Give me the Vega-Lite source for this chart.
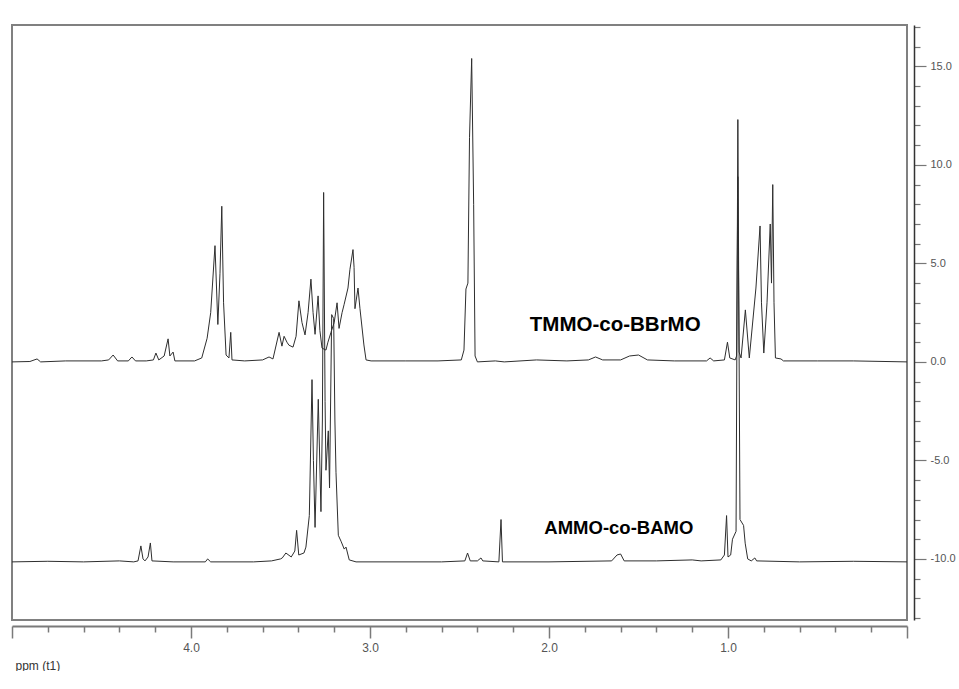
{
  "$schema": "https://vega.github.io/schema/vega-lite/v6.json",
  "width": 895,
  "height": 595,
  "autosize": {"type": "pad"},
  "padding": {"left": 11, "top": 20, "right": 0, "bottom": 0},
  "background": "white",
  "config": {"view": {"stroke": "#808080", "strokeWidth": 2}},
  "datasets": {
    "spec": [
      {"series": "TMMO-co-BBrMO", "ppm": 5.0, "intensity": 0.0},
      {"series": "TMMO-co-BBrMO", "ppm": 4.9, "intensity": 0.02},
      {"series": "TMMO-co-BBrMO", "ppm": 4.86, "intensity": 0.15},
      {"series": "TMMO-co-BBrMO", "ppm": 4.84, "intensity": 0.0},
      {"series": "TMMO-co-BBrMO", "ppm": 4.7, "intensity": 0.05},
      {"series": "TMMO-co-BBrMO", "ppm": 4.5, "intensity": 0.05},
      {"series": "TMMO-co-BBrMO", "ppm": 4.46, "intensity": 0.1},
      {"series": "TMMO-co-BBrMO", "ppm": 4.435, "intensity": 0.35},
      {"series": "TMMO-co-BBrMO", "ppm": 4.41, "intensity": 0.05},
      {"series": "TMMO-co-BBrMO", "ppm": 4.35, "intensity": 0.05},
      {"series": "TMMO-co-BBrMO", "ppm": 4.33, "intensity": 0.25},
      {"series": "TMMO-co-BBrMO", "ppm": 4.31, "intensity": 0.05},
      {"series": "TMMO-co-BBrMO", "ppm": 4.25, "intensity": 0.05},
      {"series": "TMMO-co-BBrMO", "ppm": 4.21, "intensity": 0.1},
      {"series": "TMMO-co-BBrMO", "ppm": 4.196, "intensity": 0.45},
      {"series": "TMMO-co-BBrMO", "ppm": 4.18, "intensity": 0.1},
      {"series": "TMMO-co-BBrMO", "ppm": 4.15, "intensity": 0.3},
      {"series": "TMMO-co-BBrMO", "ppm": 4.128, "intensity": 1.17},
      {"series": "TMMO-co-BBrMO", "ppm": 4.118, "intensity": 0.3},
      {"series": "TMMO-co-BBrMO", "ppm": 4.1, "intensity": 0.5},
      {"series": "TMMO-co-BBrMO", "ppm": 4.09, "intensity": 0.05},
      {"series": "TMMO-co-BBrMO", "ppm": 3.98, "intensity": 0.05},
      {"series": "TMMO-co-BBrMO", "ppm": 3.94, "intensity": 0.2},
      {"series": "TMMO-co-BBrMO", "ppm": 3.91, "intensity": 1.2},
      {"series": "TMMO-co-BBrMO", "ppm": 3.89, "intensity": 2.5},
      {"series": "TMMO-co-BBrMO", "ppm": 3.866, "intensity": 5.9},
      {"series": "TMMO-co-BBrMO", "ppm": 3.85, "intensity": 1.9},
      {"series": "TMMO-co-BBrMO", "ppm": 3.838, "intensity": 4.5},
      {"series": "TMMO-co-BBrMO", "ppm": 3.828, "intensity": 7.9},
      {"series": "TMMO-co-BBrMO", "ppm": 3.818, "intensity": 3.0},
      {"series": "TMMO-co-BBrMO", "ppm": 3.804, "intensity": 0.35},
      {"series": "TMMO-co-BBrMO", "ppm": 3.788, "intensity": 0.2},
      {"series": "TMMO-co-BBrMO", "ppm": 3.778, "intensity": 1.5},
      {"series": "TMMO-co-BBrMO", "ppm": 3.771, "intensity": 0.1},
      {"series": "TMMO-co-BBrMO", "ppm": 3.7, "intensity": 0.05},
      {"series": "TMMO-co-BBrMO", "ppm": 3.6, "intensity": 0.1},
      {"series": "TMMO-co-BBrMO", "ppm": 3.564, "intensity": 0.25},
      {"series": "TMMO-co-BBrMO", "ppm": 3.542, "intensity": 0.15},
      {"series": "TMMO-co-BBrMO", "ppm": 3.508, "intensity": 1.5},
      {"series": "TMMO-co-BBrMO", "ppm": 3.492, "intensity": 0.8},
      {"series": "TMMO-co-BBrMO", "ppm": 3.48, "intensity": 1.3},
      {"series": "TMMO-co-BBrMO", "ppm": 3.464, "intensity": 1.0},
      {"series": "TMMO-co-BBrMO", "ppm": 3.453, "intensity": 0.85},
      {"series": "TMMO-co-BBrMO", "ppm": 3.43, "intensity": 0.75},
      {"series": "TMMO-co-BBrMO", "ppm": 3.413, "intensity": 1.3},
      {"series": "TMMO-co-BBrMO", "ppm": 3.397, "intensity": 3.1},
      {"series": "TMMO-co-BBrMO", "ppm": 3.38, "intensity": 2.0},
      {"series": "TMMO-co-BBrMO", "ppm": 3.363, "intensity": 1.37},
      {"series": "TMMO-co-BBrMO", "ppm": 3.346, "intensity": 2.5},
      {"series": "TMMO-co-BBrMO", "ppm": 3.33, "intensity": 4.2},
      {"series": "TMMO-co-BBrMO", "ppm": 3.318, "intensity": 2.5},
      {"series": "TMMO-co-BBrMO", "ppm": 3.307, "intensity": 1.4},
      {"series": "TMMO-co-BBrMO", "ppm": 3.29, "intensity": 3.35},
      {"series": "TMMO-co-BBrMO", "ppm": 3.28, "intensity": 1.6},
      {"series": "TMMO-co-BBrMO", "ppm": 3.268, "intensity": 0.7},
      {"series": "TMMO-co-BBrMO", "ppm": 3.246, "intensity": 0.6},
      {"series": "TMMO-co-BBrMO", "ppm": 3.235, "intensity": 1.0},
      {"series": "TMMO-co-BBrMO", "ppm": 3.218, "intensity": 1.5},
      {"series": "TMMO-co-BBrMO", "ppm": 3.2, "intensity": 2.0},
      {"series": "TMMO-co-BBrMO", "ppm": 3.184, "intensity": 3.0},
      {"series": "TMMO-co-BBrMO", "ppm": 3.173, "intensity": 1.7},
      {"series": "TMMO-co-BBrMO", "ppm": 3.156, "intensity": 2.5},
      {"series": "TMMO-co-BBrMO", "ppm": 3.145, "intensity": 2.9},
      {"series": "TMMO-co-BBrMO", "ppm": 3.123, "intensity": 3.75},
      {"series": "TMMO-co-BBrMO", "ppm": 3.112, "intensity": 4.7},
      {"series": "TMMO-co-BBrMO", "ppm": 3.095, "intensity": 5.7},
      {"series": "TMMO-co-BBrMO", "ppm": 3.089, "intensity": 4.8},
      {"series": "TMMO-co-BBrMO", "ppm": 3.084, "intensity": 2.7},
      {"series": "TMMO-co-BBrMO", "ppm": 3.067, "intensity": 3.75},
      {"series": "TMMO-co-BBrMO", "ppm": 3.056, "intensity": 2.7},
      {"series": "TMMO-co-BBrMO", "ppm": 3.034, "intensity": 0.86},
      {"series": "TMMO-co-BBrMO", "ppm": 3.022, "intensity": 0.1},
      {"series": "TMMO-co-BBrMO", "ppm": 2.994, "intensity": 0.05},
      {"series": "TMMO-co-BBrMO", "ppm": 2.8, "intensity": 0.05},
      {"series": "TMMO-co-BBrMO", "ppm": 2.62, "intensity": 0.05},
      {"series": "TMMO-co-BBrMO", "ppm": 2.49, "intensity": 0.1},
      {"series": "TMMO-co-BBrMO", "ppm": 2.475, "intensity": 0.6},
      {"series": "TMMO-co-BBrMO", "ppm": 2.464, "intensity": 3.7},
      {"series": "TMMO-co-BBrMO", "ppm": 2.453, "intensity": 4.0},
      {"series": "TMMO-co-BBrMO", "ppm": 2.444, "intensity": 11.4},
      {"series": "TMMO-co-BBrMO", "ppm": 2.432, "intensity": 15.4},
      {"series": "TMMO-co-BBrMO", "ppm": 2.421, "intensity": 8.0},
      {"series": "TMMO-co-BBrMO", "ppm": 2.413, "intensity": 0.3},
      {"series": "TMMO-co-BBrMO", "ppm": 2.4, "intensity": 0.0},
      {"series": "TMMO-co-BBrMO", "ppm": 2.3, "intensity": 0.05},
      {"series": "TMMO-co-BBrMO", "ppm": 2.25, "intensity": 0.0},
      {"series": "TMMO-co-BBrMO", "ppm": 2.07, "intensity": 0.1},
      {"series": "TMMO-co-BBrMO", "ppm": 1.9, "intensity": 0.05},
      {"series": "TMMO-co-BBrMO", "ppm": 1.78, "intensity": 0.1},
      {"series": "TMMO-co-BBrMO", "ppm": 1.74, "intensity": 0.25},
      {"series": "TMMO-co-BBrMO", "ppm": 1.7, "intensity": 0.1},
      {"series": "TMMO-co-BBrMO", "ppm": 1.6, "intensity": 0.1},
      {"series": "TMMO-co-BBrMO", "ppm": 1.55, "intensity": 0.3},
      {"series": "TMMO-co-BBrMO", "ppm": 1.5, "intensity": 0.35},
      {"series": "TMMO-co-BBrMO", "ppm": 1.45, "intensity": 0.1},
      {"series": "TMMO-co-BBrMO", "ppm": 1.3, "intensity": 0.05},
      {"series": "TMMO-co-BBrMO", "ppm": 1.12, "intensity": 0.05},
      {"series": "TMMO-co-BBrMO", "ppm": 1.1, "intensity": 0.2},
      {"series": "TMMO-co-BBrMO", "ppm": 1.08, "intensity": 0.05},
      {"series": "TMMO-co-BBrMO", "ppm": 1.02, "intensity": 0.1},
      {"series": "TMMO-co-BBrMO", "ppm": 1.003, "intensity": 1.0},
      {"series": "TMMO-co-BBrMO", "ppm": 0.99, "intensity": 0.2},
      {"series": "TMMO-co-BBrMO", "ppm": 0.96, "intensity": 0.1},
      {"series": "TMMO-co-BBrMO", "ppm": 0.952, "intensity": 0.3},
      {"series": "TMMO-co-BBrMO", "ppm": 0.945, "intensity": 9.4},
      {"series": "TMMO-co-BBrMO", "ppm": 0.938, "intensity": 0.5},
      {"series": "TMMO-co-BBrMO", "ppm": 0.927, "intensity": 0.2},
      {"series": "TMMO-co-BBrMO", "ppm": 0.903, "intensity": 2.64},
      {"series": "TMMO-co-BBrMO", "ppm": 0.881, "intensity": 0.2},
      {"series": "TMMO-co-BBrMO", "ppm": 0.844, "intensity": 3.75},
      {"series": "TMMO-co-BBrMO", "ppm": 0.821, "intensity": 6.9},
      {"series": "TMMO-co-BBrMO", "ppm": 0.813, "intensity": 3.0},
      {"series": "TMMO-co-BBrMO", "ppm": 0.8, "intensity": 0.45},
      {"series": "TMMO-co-BBrMO", "ppm": 0.782, "intensity": 3.0},
      {"series": "TMMO-co-BBrMO", "ppm": 0.764, "intensity": 7.0},
      {"series": "TMMO-co-BBrMO", "ppm": 0.757, "intensity": 4.0},
      {"series": "TMMO-co-BBrMO", "ppm": 0.75, "intensity": 9.0},
      {"series": "TMMO-co-BBrMO", "ppm": 0.743, "intensity": 3.0},
      {"series": "TMMO-co-BBrMO", "ppm": 0.735, "intensity": 0.2},
      {"series": "TMMO-co-BBrMO", "ppm": 0.704, "intensity": 0.15},
      {"series": "TMMO-co-BBrMO", "ppm": 0.69, "intensity": 0.05},
      {"series": "TMMO-co-BBrMO", "ppm": 0.5, "intensity": 0.05},
      {"series": "TMMO-co-BBrMO", "ppm": 0.3, "intensity": 0.05},
      {"series": "TMMO-co-BBrMO", "ppm": 0.0, "intensity": 0.0},
      {"series": "AMMO-co-BAMO", "ppm": 5.0, "intensity": -10.15},
      {"series": "AMMO-co-BAMO", "ppm": 4.8, "intensity": -10.12},
      {"series": "AMMO-co-BAMO", "ppm": 4.6, "intensity": -10.15},
      {"series": "AMMO-co-BAMO", "ppm": 4.4, "intensity": -10.1},
      {"series": "AMMO-co-BAMO", "ppm": 4.32, "intensity": -10.15},
      {"series": "AMMO-co-BAMO", "ppm": 4.296, "intensity": -10.1},
      {"series": "AMMO-co-BAMO", "ppm": 4.28, "intensity": -9.34},
      {"series": "AMMO-co-BAMO", "ppm": 4.268, "intensity": -10.0},
      {"series": "AMMO-co-BAMO", "ppm": 4.257, "intensity": -10.1},
      {"series": "AMMO-co-BAMO", "ppm": 4.24, "intensity": -9.9},
      {"series": "AMMO-co-BAMO", "ppm": 4.227, "intensity": -9.19},
      {"series": "AMMO-co-BAMO", "ppm": 4.218, "intensity": -10.1},
      {"series": "AMMO-co-BAMO", "ppm": 4.1, "intensity": -10.15},
      {"series": "AMMO-co-BAMO", "ppm": 3.92, "intensity": -10.15},
      {"series": "AMMO-co-BAMO", "ppm": 3.907, "intensity": -10.0},
      {"series": "AMMO-co-BAMO", "ppm": 3.89, "intensity": -10.15},
      {"series": "AMMO-co-BAMO", "ppm": 3.65, "intensity": -10.15},
      {"series": "AMMO-co-BAMO", "ppm": 3.55, "intensity": -10.1},
      {"series": "AMMO-co-BAMO", "ppm": 3.5, "intensity": -10.0},
      {"series": "AMMO-co-BAMO", "ppm": 3.49, "intensity": -9.95},
      {"series": "AMMO-co-BAMO", "ppm": 3.47, "intensity": -9.7},
      {"series": "AMMO-co-BAMO", "ppm": 3.44, "intensity": -9.9},
      {"series": "AMMO-co-BAMO", "ppm": 3.42, "intensity": -9.6},
      {"series": "AMMO-co-BAMO", "ppm": 3.41, "intensity": -8.55},
      {"series": "AMMO-co-BAMO", "ppm": 3.398, "intensity": -9.8},
      {"series": "AMMO-co-BAMO", "ppm": 3.369, "intensity": -9.7},
      {"series": "AMMO-co-BAMO", "ppm": 3.358, "intensity": -9.4},
      {"series": "AMMO-co-BAMO", "ppm": 3.339, "intensity": -7.8},
      {"series": "AMMO-co-BAMO", "ppm": 3.324, "intensity": -0.9},
      {"series": "AMMO-co-BAMO", "ppm": 3.316, "intensity": -5.0},
      {"series": "AMMO-co-BAMO", "ppm": 3.307, "intensity": -8.4},
      {"series": "AMMO-co-BAMO", "ppm": 3.289, "intensity": -1.9},
      {"series": "AMMO-co-BAMO", "ppm": 3.274, "intensity": -7.6},
      {"series": "AMMO-co-BAMO", "ppm": 3.266, "intensity": -3.0},
      {"series": "AMMO-co-BAMO", "ppm": 3.259, "intensity": 8.6},
      {"series": "AMMO-co-BAMO", "ppm": 3.251, "intensity": -2.0},
      {"series": "AMMO-co-BAMO", "ppm": 3.246, "intensity": -5.5},
      {"series": "AMMO-co-BAMO", "ppm": 3.233, "intensity": -3.5},
      {"series": "AMMO-co-BAMO", "ppm": 3.226, "intensity": -6.4},
      {"series": "AMMO-co-BAMO", "ppm": 3.214, "intensity": 2.4},
      {"series": "AMMO-co-BAMO", "ppm": 3.203, "intensity": 2.2},
      {"series": "AMMO-co-BAMO", "ppm": 3.196, "intensity": -3.0},
      {"series": "AMMO-co-BAMO", "ppm": 3.19, "intensity": -5.6},
      {"series": "AMMO-co-BAMO", "ppm": 3.177, "intensity": -8.8},
      {"series": "AMMO-co-BAMO", "ppm": 3.162, "intensity": -9.1},
      {"series": "AMMO-co-BAMO", "ppm": 3.144, "intensity": -9.5},
      {"series": "AMMO-co-BAMO", "ppm": 3.134, "intensity": -9.4},
      {"series": "AMMO-co-BAMO", "ppm": 3.116, "intensity": -10.05},
      {"series": "AMMO-co-BAMO", "ppm": 3.078, "intensity": -10.15},
      {"series": "AMMO-co-BAMO", "ppm": 2.6, "intensity": -10.15},
      {"series": "AMMO-co-BAMO", "ppm": 2.47, "intensity": -10.1},
      {"series": "AMMO-co-BAMO", "ppm": 2.455, "intensity": -9.7},
      {"series": "AMMO-co-BAMO", "ppm": 2.44, "intensity": -10.1},
      {"series": "AMMO-co-BAMO", "ppm": 2.4, "intensity": -10.1},
      {"series": "AMMO-co-BAMO", "ppm": 2.38, "intensity": -9.95},
      {"series": "AMMO-co-BAMO", "ppm": 2.37, "intensity": -10.1},
      {"series": "AMMO-co-BAMO", "ppm": 2.28, "intensity": -10.15},
      {"series": "AMMO-co-BAMO", "ppm": 2.268, "intensity": -8.0},
      {"series": "AMMO-co-BAMO", "ppm": 2.26, "intensity": -10.15},
      {"series": "AMMO-co-BAMO", "ppm": 2.0, "intensity": -10.15},
      {"series": "AMMO-co-BAMO", "ppm": 1.65, "intensity": -10.1},
      {"series": "AMMO-co-BAMO", "ppm": 1.62, "intensity": -9.8},
      {"series": "AMMO-co-BAMO", "ppm": 1.6, "intensity": -9.75},
      {"series": "AMMO-co-BAMO", "ppm": 1.58, "intensity": -10.1},
      {"series": "AMMO-co-BAMO", "ppm": 1.4, "intensity": -10.1},
      {"series": "AMMO-co-BAMO", "ppm": 1.2, "intensity": -10.05},
      {"series": "AMMO-co-BAMO", "ppm": 1.15, "intensity": -10.1},
      {"series": "AMMO-co-BAMO", "ppm": 1.04, "intensity": -10.05},
      {"series": "AMMO-co-BAMO", "ppm": 1.02, "intensity": -9.8},
      {"series": "AMMO-co-BAMO", "ppm": 1.008, "intensity": -7.8},
      {"series": "AMMO-co-BAMO", "ppm": 1.0, "intensity": -9.9},
      {"series": "AMMO-co-BAMO", "ppm": 0.985, "intensity": -9.8},
      {"series": "AMMO-co-BAMO", "ppm": 0.975, "intensity": -9.0},
      {"series": "AMMO-co-BAMO", "ppm": 0.955, "intensity": -8.6},
      {"series": "AMMO-co-BAMO", "ppm": 0.945, "intensity": 12.3},
      {"series": "AMMO-co-BAMO", "ppm": 0.933, "intensity": -8.0},
      {"series": "AMMO-co-BAMO", "ppm": 0.913, "intensity": -8.3},
      {"series": "AMMO-co-BAMO", "ppm": 0.904, "intensity": -9.2},
      {"series": "AMMO-co-BAMO", "ppm": 0.89, "intensity": -10.0},
      {"series": "AMMO-co-BAMO", "ppm": 0.87, "intensity": -10.1},
      {"series": "AMMO-co-BAMO", "ppm": 0.85, "intensity": -9.95},
      {"series": "AMMO-co-BAMO", "ppm": 0.84, "intensity": -10.1},
      {"series": "AMMO-co-BAMO", "ppm": 0.6, "intensity": -10.15},
      {"series": "AMMO-co-BAMO", "ppm": 0.3, "intensity": -10.12},
      {"series": "AMMO-co-BAMO", "ppm": 0.0, "intensity": -10.15}
    ],
    "ann": [
      {"label": "TMMO-co-BBrMO", "ppm": 1.63, "intensity": 1.88},
      {"label": "AMMO-co-BAMO", "ppm": 1.61, "intensity": -8.43}
    ]
  },
  "layer": [
    {
      "data": {"name": "spec"},
      "mark": {"type": "line", "stroke": "#2e2e2e", "strokeWidth": 1, "clip": true},
      "encoding": {
        "x": {
          "field": "ppm", "type": "quantitative",
          "scale": {"domain": [0, 5], "reverse": true, "nice": false, "zero": false},
          "axis": {
            "orient": "bottom", "offset": 6, "tickCount": 500,
            "values": [0,0.2,0.4,0.6,0.8,1,1.2,1.4,1.6,1.8,2,2.2,2.4,2.6,2.8,3,3.2,3.4,3.6,3.8,4,4.2,4.4,4.6,4.8,5],
            "grid": false,
            "domainColor": "#7a7a7a", "domainWidth": 2,
            "tickColor": "#7a7a7a", "tickWidth": 1.5,
            "tickSize": {"condition": {"test": "abs(datum.value - round(datum.value)) < 0.001", "value": 12}, "value": 6},
            "labelExpr": "abs(datum.value - round(datum.value)) < 0.001 && datum.value > 0.5 && datum.value < 4.5 ? format(datum.value, '.1f') : ''",
            "labelFont": "Liberation Sans", "labelFontSize": 12, "labelColor": "#555555", "labelPadding": 4,
            "labelFlush": false, "labelOverlap": false,
            "title": "ppm (t1)", "titleFont": "Liberation Sans", "titleFontSize": 12, "titleFontWeight": "normal",
            "titleColor": "#333333", "titleAnchor": "start", "titleAlign": "left", "titleX": 3, "titleY": 39, "titleBaseline": "middle"
          }
        },
        "y": {
          "field": "intensity", "type": "quantitative",
          "scale": {"domain": [-13.1, 17.1], "nice": false, "zero": false},
          "axis": {
            "orient": "right", "offset": 7, "tickCount": 500,
            "values": [-13,-12,-11,-10,-9,-8,-7,-6,-5,-4,-3,-2,-1,0,1,2,3,4,5,6,7,8,9,10,11,12,13,14,15,16,17],
            "grid": false,
            "domainColor": "#333333", "domainWidth": 1.5,
            "tickColor": "#777777", "tickWidth": 1.2,
            "tickSize": {"condition": {"test": "datum.value % 5 === 0", "value": 12}, "value": 6},
            "labelExpr": "datum.value % 5 === 0 ? (datum.value < 0 ? '-' : '') + format(abs(datum.value), '.1f') : ''",
            "labelFont": "Liberation Sans", "labelFontSize": 11, "labelColor": "#555555", "labelPadding": 4,
            "labelFlush": false, "labelOverlap": false,
            "title": null
          }
        },
        "detail": {"field": "series"}
      }
    },
    {
      "data": {"name": "ann"},
      "mark": {"type": "text", "font": "Liberation Sans", "fontWeight": "bold", "color": "#000000", "align": "center", "baseline": "middle"},
      "encoding": {
        "x": {"field": "ppm", "type": "quantitative"},
        "y": {"field": "intensity", "type": "quantitative"},
        "text": {"field": "label"},
        "size": {"condition": {"test": "datum.label === 'TMMO-co-BBrMO'", "value": 20.5}, "value": 18.5}
      }
    }
  ]
}
